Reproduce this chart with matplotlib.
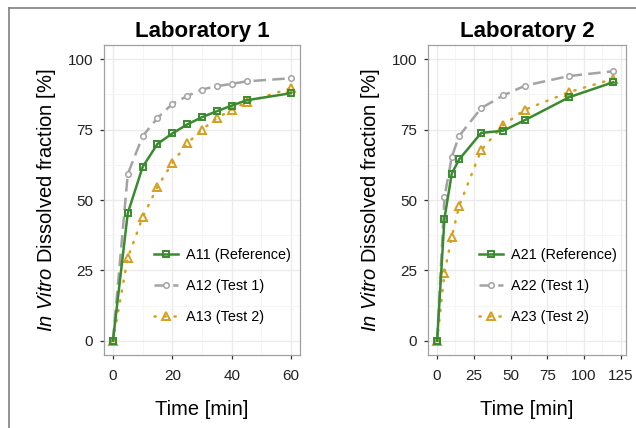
import matplotlib
matplotlib.use('Agg')
import matplotlib.pyplot as plt
from matplotlib.lines import Line2D
from matplotlib.ticker import MultipleLocator

plt.rcParams['font.family'] = ['Liberation Sans', 'DejaVu Sans']
plt.rcParams['mathtext.fontset'] = 'custom'
plt.rcParams['mathtext.it'] = 'Liberation Sans:italic'
plt.rcParams['mathtext.rm'] = 'Liberation Sans'

# Laboratory 1
time1 = [0, 5, 10, 15, 20, 25, 30, 35, 40, 45, 60]
a11 = [0, 45.3, 61.7, 69.9, 73.6, 76.8, 79.4, 81.5, 83.5, 85.4, 87.9]
a12 = [0, 59.2, 72.6, 79.1, 84.1, 86.9, 89.2, 90.4, 91.2, 92.1, 93.2]
a13 = [0, 29.5, 43.8, 54.7, 63.1, 70.1, 75.0, 79.0, 82.1, 84.7, 89.7]

# Laboratory 2
time2 = [0, 5, 10, 15, 30, 45, 60, 90, 120]
a21 = [0, 43.4, 59.4, 64.4, 73.8, 74.6, 78.4, 86.5, 91.8]
a22 = [0, 50.9, 65.4, 72.7, 82.6, 87.1, 90.6, 94.0, 95.7]
a23 = [0, 24.2, 37.0, 47.9, 67.7, 76.6, 82.1, 88.3, 93.0]

green = '#3a8b2f'
grey = '#a3a3a3'
gold = '#d4a020'

W, H = 636, 428
fig = plt.figure(figsize=(W / 100, H / 100), dpi=100)

# outer frame (left + top edge of the original figure)
fig.add_artist(Line2D([9 / W, 9 / W], [0, 1 - 8 / H], color='#7f7f7f', lw=1.2))
fig.add_artist(Line2D([9 / W, 1], [1 - 8 / H, 1 - 8 / H], color='#7f7f7f', lw=1.2))


def panel(rect, title, t, ref, t1, t2, names, xlim, xmajor):
    ax = fig.add_axes(rect)
    ax.plot(t, ref, color=green, lw=1.8, marker='s', ms=5, mfc='none', mec=green, mew=1.4,
            label=names[0], zorder=4)
    ax.plot(t, t1, color=grey, lw=1.8, ls=(0, (5, 2.5)), marker='o', ms=4, mfc='white', mec=grey,
            mew=1.1, label=names[1], zorder=3)
    ax.plot(t, t2, color=gold, lw=1.8, ls=(0, (0.5, 3.5)), dash_capstyle='round', marker='^', ms=5.5,
            mfc='none', mec=gold, mew=1.4, label=names[2], zorder=3)
    ax.set_xlim(*xlim)
    ax.set_ylim(-5, 105)
    ax.xaxis.set_major_locator(MultipleLocator(xmajor))
    ax.xaxis.set_minor_locator(MultipleLocator(xmajor / 2))
    ax.yaxis.set_major_locator(MultipleLocator(25))
    ax.yaxis.set_minor_locator(MultipleLocator(12.5))
    ax.grid(which='major', color='#ebebeb', lw=1.0)
    ax.grid(which='minor', color='#f4f4f4', lw=0.6)
    ax.set_axisbelow(True)
    for s in ax.spines.values():
        s.set_color('#a0a0a0')
        s.set_linewidth(0.9)
    ax.tick_params(which='major', length=3, width=0.9, color='#333333', labelsize=11,
                   labelcolor='#222222', pad=5)
    ax.tick_params(axis='x', which='major', pad=7)
    ax.tick_params(which='minor', length=0)
    ax.set_title(title, fontsize=16, fontweight='bold', pad=6)
    ax.set_xlabel('Time [min]', fontsize=14.5, labelpad=12)
    ax.set_ylabel(r'$\mathit{In\ Vitro}$ Dissolved fraction [%]', fontsize=14.5, labelpad=7)
    ax.legend(loc='lower right', bbox_to_anchor=(0.985, 0.08), frameon=False, fontsize=10.4,
              handlelength=1.7, labelspacing=1.2, borderaxespad=0, handletextpad=0.55)
    return ax


panel([104 / W, 73 / H, 196 / W, 310 / H], 'Laboratory 1', time1, a11, a12, a13,
      ['A11 (Reference)', 'A12 (Test 1)', 'A13 (Test 2)'], (-3, 63), 20)
panel([428 / W, 73 / H, 198 / W, 310 / H], 'Laboratory 2', time2, a21, a22, a23,
      ['A21 (Reference)', 'A22 (Test 1)', 'A23 (Test 2)'], (-6.2, 128.6), 25)

fig.savefig('out.png', dpi=100)
